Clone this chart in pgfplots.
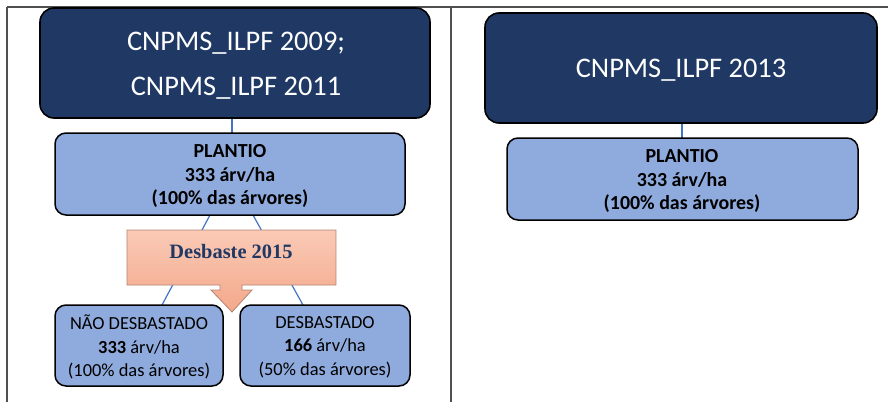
\documentclass[border=0pt]{standalone}
\usepackage{pgfplots}
\pgfplotsset{compat=1.18}
\usepackage{fontspec}
\setmainfont{Carlito}
\newfontfamily\timesfont{Liberation Serif}
\definecolor{navy}{RGB}{31,56,100}
\definecolor{lblue}{RGB}{143,170,220}
\definecolor{conn}{RGB}{68,114,196}
\definecolor{salmontop}{RGB}{250,202,182}
\definecolor{salmonbot}{RGB}{243,168,138}
\definecolor{salmonedge}{RGB}{180,130,112}
\definecolor{desbtext}{RGB}{31,56,100}
\definecolor{rule}{RGB}{80,80,80}
\begin{document}
\begin{tikzpicture}
\useasboundingbox (0,0) rectangle (888bp,402bp);
\begin{axis}[
  scale only axis, width=888bp, height=402bp,
  xmin=0, xmax=888, ymin=0, ymax=402, y dir=reverse,
  hide axis, clip=false,
]
% table rules
\draw[rule, line width=1.4bp] (axis cs:7,7) -- (axis cs:888,7);
\draw[rule, line width=1.4bp] (axis cs:7,7) -- (axis cs:7,402);
\draw[rule, line width=1.4bp] (axis cs:451,7) -- (axis cs:451,402);
% connectors
\draw[conn, line width=1.2bp] (axis cs:232,118) -- (axis cs:232,133);
\draw[conn, line width=1.2bp] (axis cs:210,215) -- (axis cs:162,305);
\draw[conn, line width=1.2bp] (axis cs:253,215) -- (axis cs:303,305);
\draw[conn, line width=1.2bp] (axis cs:682,123) -- (axis cs:682,138);
% left dark box
\draw[black, line width=1.6bp, fill=navy, rounded corners=14bp] (axis cs:40,8) rectangle (axis cs:430,118);
\node[text=white, align=center, font=\fontsize{28.5}{45}\selectfont] at (axis cs:236,66) {CNPMS\_ILPF 2009;\\CNPMS\_ILPF 2011};
% left plantio
\draw[black, line width=1.5bp, fill=lblue, rounded corners=11bp] (axis cs:55,133) rectangle (axis cs:405,215);
\node[align=center, font=\fontsize{20}{24}\selectfont\bfseries] at (axis cs:230,176) {PLANTIO\\333 árv/ha\\(100\% das árvores)};
% desbaste
\draw[salmonedge, line width=0.8bp, top color=salmontop, bottom color=salmonbot] (axis cs:127,230) -- (axis cs:336,230) -- (axis cs:336,285) -- (axis cs:242,285) -- (axis cs:242,290) -- (axis cs:252,290) -- (axis cs:232,312) -- (axis cs:211,290) -- (axis cs:220,290) -- (axis cs:220,285) -- (axis cs:127,285) -- cycle;
\node[text=desbtext, font=\fontsize{20.5}{24}\selectfont\timesfont\bfseries] at (axis cs:231,252) {Desbaste 2015};
% lower boxes
\draw[black, line width=1.5bp, fill=lblue, rounded corners=11bp] (axis cs:55,305) rectangle (axis cs:223,386);
\node[align=center, font=\fontsize{18.5}{23.5}\selectfont] at (axis cs:139,347) {NÃO DESBASTADO\\\textbf{333} árv/ha\\(100\% das árvores)};
\draw[black, line width=1.5bp, fill=lblue, rounded corners=11bp] (axis cs:240,305) rectangle (axis cs:410,386);
\node[align=center, font=\fontsize{18.5}{23.5}\selectfont] at (axis cs:325,347) {DESBASTADO\\\textbf{166} árv/ha\\(50\% das árvores)};
% right dark box
\draw[black, line width=1.6bp, fill=navy, rounded corners=14bp] (axis cs:485,13) rectangle (axis cs:877,123);
\node[text=white, font=\fontsize{28.5}{34}\selectfont] at (axis cs:681,70) {CNPMS\_ILPF 2013};
% right plantio
\draw[black, line width=1.5bp, fill=lblue, rounded corners=11bp] (axis cs:507,138) rectangle (axis cs:858,220);
\node[align=center, font=\fontsize{20}{24}\selectfont\bfseries] at (axis cs:682,181) {PLANTIO\\333 árv/ha\\(100\% das árvores)};
\end{axis}
\end{tikzpicture}
\end{document}
